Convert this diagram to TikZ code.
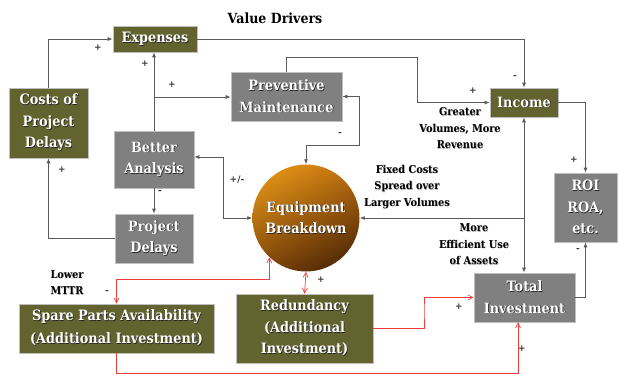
\documentclass[tikz,border=0pt]{standalone}
\usepackage{fontspec}
\setmainfont{DejaVu Serif}
\newfontfamily\boxfont{DejaVu Serif}[FakeStretch=0.9]
\usetikzlibrary{arrows.meta,shadings}
\definecolor{olivebox}{HTML}{63632F}
\definecolor{graybox}{HTML}{808080}
\definecolor{lineg}{HTML}{5A5A5A}
\definecolor{redl}{HTML}{F03C3C}
\definecolor{cul}{RGB}{240,160,25}
\definecolor{cur}{RGB}{190,110,15}
\definecolor{cll}{RGB}{130,70,10}
\definecolor{clr}{RGB}{60,28,4}
\newcommand\shd[1]{\leavevmode\rlap{\kern0.7pt\raisebox{-0.7pt}{\color{black!85}#1}}#1}
\newcommand\lshd[1]{\leavevmode\rlap{\kern0.6pt\raisebox{-0.6pt}{\color{black!30}#1}}#1}
\tikzset{
  boxbase/.style={rectangle, draw=black!25, line width=0.6pt, text=white, inner sep=0pt, align=center,
    font=\boxfont\bfseries\fontsize{14.3}{21.5}\selectfont},
  olive/.style={boxbase, fill=olivebox},
  grayb/.style={boxbase, fill=graybox},
  arr/.style={draw=lineg, line width=0.8pt, -{Latex[length=5pt,width=4pt]}},
  arrb/.style={draw=lineg, line width=0.8pt, {Latex[length=5pt,width=4pt]}-{Latex[length=5pt,width=4pt]}},
  rarr/.style={draw=redl, line width=0.7pt, -{Straight Barb[length=5pt,width=5pt]}},
  rarrb/.style={draw=redl, line width=0.7pt, {Straight Barb[length=5pt,width=5pt]}-{Straight Barb[length=5pt,width=5pt]}},
  lbl/.style={font=\boxfont\bfseries\fontsize{10.8}{16.5}\selectfont, align=center, inner sep=0pt},
  sgn/.style={font=\bfseries\fontsize{9}{10}\selectfont, text=black!80, inner sep=0pt},
}
\begin{document}
\begin{tikzpicture}[x=1pt,y=-1pt]
\useasboundingbox (0,0) rectangle (624,377);
% title
\node[font=\boxfont\bfseries\fontsize{14}{15}\selectfont, inner sep=0pt] (title) at (275,18) {Value Drivers};
% boxes
\node[olive, minimum width=84pt, minimum height=26pt] (exp) at (155,39) {\shd{Expenses}};
\node[olive, minimum width=79pt, minimum height=70pt] (costs) at (48.5,123) {\shd{Costs of}\\\shd{Project}\\\shd{Delays}};
\node[grayb, minimum width=111pt, minimum height=49pt] (prev) at (286.5,96.5) {\shd{Preventive}\\\shd{Maintenance}};
\node[grayb, minimum width=80pt, minimum height=57pt] (better) at (154,159.5) {\shd{Better}\\\shd{Analysis}};
\node[grayb, minimum width=78pt, minimum height=49pt] (pd) at (154,238.5) {\shd{Project}\\\shd{Delays}};
\node[olive, minimum width=68pt, minimum height=29pt] (inc) at (524,102.5) {\shd{Income}};
\node[grayb, minimum width=63pt, minimum height=69pt] (roi) at (585.5,207.5) {\shd{ROI}\\\shd{ROA,}\\\shd{etc.}};
\node[grayb, minimum width=101pt, minimum height=49pt] (tot) at (524.5,297.5) {\shd{Total}\\\shd{Investment}};
\node[olive, minimum width=195pt, minimum height=49pt, font=\boxfont\bfseries\fontsize{14.3}{23}\selectfont] (spare) at (116.5,328.5) {\shd{Spare Parts Availability}\\\shd{(Additional Investment)}};
\node[olive, minimum width=137pt, minimum height=69pt] (red) at (304.5,328.5) {\shd{Redundancy}\\\shd{(Additional}\\\shd{Investment)}};
% circle
\node[circle, minimum size=107pt, inner sep=0pt] (eb) at (306,218) {};
\shade[upper left=cul, upper right=cur, lower left=cll, lower right=clr]
  (eb.center) circle (53.5pt);
\node[boxbase, draw=none, fill=none] (ebt) at (eb.center) {\shd{Equipment}\\\shd{Breakdown}};
% coordinates
\coordinate (j1) at (154,97);
\coordinate (k1) at (417,57);
\coordinate (k2) at (359,145);
\coordinate (k3) at (223,157);
\coordinate (k6) at (424,310);
\coordinate (k7) at (518,373);
\coordinate (yred) at (0,279);
% grey connectors
\draw[arr] (costs.north) |- (exp.west);
\draw[arr] (exp.east) -| (inc.north);
\draw[arr] (better.north) -- (better.north |- exp.south);
\draw[arr] (j1) -- (j1 -| prev.west);
\draw[arr] (prev.north) |- (k1) |- (inc.west);
\draw[arr] (inc.east) -| (roi.north);
\draw[arrb] (prev.east) -| (k2) -| (eb.north);
\draw[arrb] (eb.west) -| (k3) -- (k3 -| better.east);
\draw[arr] (better.south) -- (pd.north);
\draw[arr] (pd.west) -| (costs.south);
\draw[arrb] (inc.south) -- (inc.south |- tot.north);
\draw[arr] (inc.south |- eb.east) -- (eb.east);
\draw[arr] (tot.east) -| (roi.south);
% red connectors
\draw[rarrb] (eb.227) |- (spare.north |- yred) -- (spare.north);
\draw[rarrb] (eb.south) -- (red.north);
\draw[rarr] (red.east) -| (k6) |- (tot.west);
\draw[rarr] (spare.south) |- (k7) -- (k7 |- tot.south);
% signs
\node[sgn] (s1) at (98,48) {+};
\node[sgn] (s2) at (145,64) {+};
\node[sgn] (s3) at (172,85) {+};
\node[sgn] (s4) at (515,77) {-};
\node[sgn] (s5) at (473,91) {+};
\node[sgn] (s6) at (574,160) {+};
\node[sgn] (s7) at (340,134) {-};
\node[sgn] (s8) at (237,180) {+/-};
\node[sgn] (s9) at (160,192) {-};
\node[sgn] (s10) at (62,170) {+};
\node[sgn] (s11) at (578,250) {-};
\node[sgn] (s12) at (107,292) {-};
\node[sgn] (s13) at (321,280) {+};
\node[sgn] (s14) at (459,307) {+};
\node[sgn] (s15) at (522,349) {+};
% labels
\node[lbl] (l1) at (460,128.5) {\lshd{Greater}\\\lshd{Volumes, More}\\\lshd{Revenue}};
\node[lbl] (l2) at (407,187) {\lshd{Fixed Costs}\\\lshd{Spread over}\\\lshd{Larger Volumes}};
\node[lbl] (l3) at (474,244.5) {\lshd{More}\\\lshd{Efficient Use}\\\lshd{of Assets}};
\node[lbl, align=left] (l4) at (67,283) {\lshd{Lower}\\\lshd{MTTR}};
\end{tikzpicture}
\end{document}
